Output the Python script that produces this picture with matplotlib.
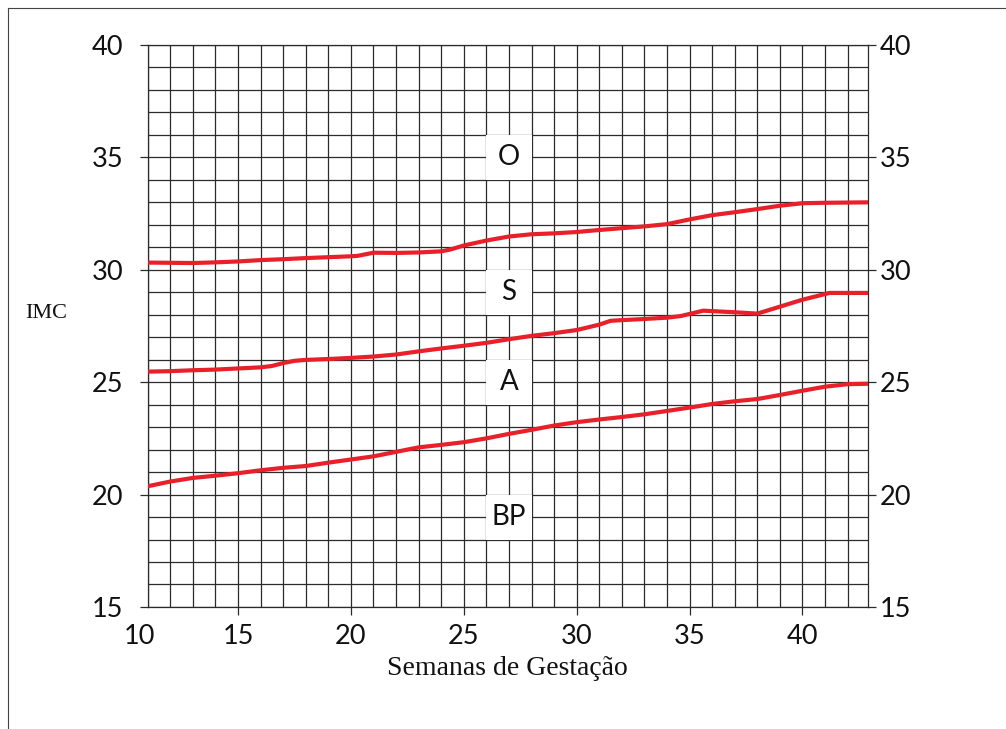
import matplotlib
matplotlib.use("Agg")
import matplotlib.pyplot as plt
from matplotlib.patches import Rectangle
from matplotlib.lines import Line2D
from matplotlib.transforms import ScaledTranslation

# upper curve (O / S)
weeks_o = [11, 12, 13, 14, 15, 16, 17, 18, 19, 20, 20.3, 21, 22, 23, 24, 24.4, 25, 26, 27,
           28, 29, 30, 31, 32, 33, 34, 35, 36, 37, 38, 39, 40, 41, 42.9]
imc_o = [30.32, 30.31, 30.30, 30.33, 30.37, 30.43, 30.47, 30.52, 30.56, 30.60, 30.62, 30.76,
         30.75, 30.77, 30.82, 30.90, 31.08, 31.30, 31.48, 31.58, 31.62, 31.68, 31.77, 31.85,
         31.93, 32.03, 32.24, 32.43, 32.56, 32.70, 32.85, 32.96, 32.98, 33.0]

# middle curve (S / A)
weeks_s = [11, 12, 13, 14, 15, 16, 16.5, 17, 17.5, 18, 19, 20, 21, 22, 23, 24, 25, 26, 27,
           28, 29, 30, 31, 31.5, 32, 33, 34, 34.6, 35.6, 37, 38, 39, 40, 41.2, 42.9]
imc_s = [25.47, 25.49, 25.53, 25.56, 25.61, 25.66, 25.72, 25.85, 25.95, 25.99, 26.03, 26.08,
         26.14, 26.23, 26.37, 26.50, 26.62, 26.75, 26.91, 27.06, 27.18, 27.32, 27.56, 27.73,
         27.76, 27.81, 27.87, 27.94, 28.18, 28.11, 28.05, 28.36, 28.67, 28.97, 28.97]

# lower curve (A / BP)
weeks_a = [11, 12, 13, 14, 15, 16, 17, 18, 19, 20, 21, 22, 23, 24, 25, 26, 27, 28, 29, 30,
           31, 32, 33, 34, 35, 36, 37, 38, 39, 40, 41, 42, 42.9]
imc_a = [20.37, 20.58, 20.74, 20.84, 20.95, 21.08, 21.19, 21.27, 21.42, 21.56, 21.70, 21.90,
         22.10, 22.21, 22.33, 22.50, 22.70, 22.88, 23.07, 23.22, 23.34, 23.45, 23.57, 23.72,
         23.87, 24.03, 24.15, 24.25, 24.43, 24.62, 24.80, 24.91, 24.93]

regions = ["O", "S", "A", "BP"]
region_imc = [35, 29, 25, 19]
region_week = 27

xticks = [11, 15, 20, 25, 30, 35, 40]
xtick_labels = ["10", "15", "20", "25", "30", "35", "40"]
yticks = [15, 20, 25, 30, 35, 40]

red = "#e8202a"
grid_col = "#2b2b2b"
sans = "Lato"
serif = "Liberation Serif"

fig = plt.figure(figsize=(10.06, 7.29), dpi=100)
ax = fig.add_axes([0.1468, 0.1674, 0.7160, 0.7709])
ax.set_xlim(11, 42.9)
ax.set_ylim(15, 40)

# grid every week / every unit of IMC
ax.set_xticks(range(11, 43), minor=True)
ax.set_yticks(range(15, 41), minor=True)
ax.grid(which="both", color=grid_col, lw=0.9)
ax.set_axisbelow(True)
for s in ax.spines.values():
    s.set_color(grid_col)
    s.set_linewidth(0.9)

# white boxes behind the region labels
for lab, yc in zip(regions, region_imc):
    ax.add_patch(Rectangle((region_week - 1, yc - 1), 2, 2, fc="white", ec="none", zorder=1))
    ax.text(region_week, yc, lab, ha="center", va="center", fontsize=20,
            family=sans, color="#111111", zorder=2)

for w, v in [(weeks_o, imc_o), (weeks_s, imc_s), (weeks_a, imc_a)]:
    ax.plot(w, v, color=red, lw=3, zorder=3, solid_capstyle="butt")

ax.set_xticks(xticks)
ax.set_xticklabels(xtick_labels, family=sans)
ax.set_yticks(yticks)
ax.set_yticklabels([str(t) for t in yticks], family=sans)
ax.tick_params(which="minor", length=0)
ax.tick_params(which="major", direction="out", length=5.5, width=0.9, color=grid_col,
               labelsize=19.5, labelcolor="#111111")
ax.tick_params(axis="x", pad=7)
ax.tick_params(axis="y", pad=12)

# first label "10" sits at the left edge, no tick mark there
ax.xaxis.get_major_ticks()[0].tick1line.set_visible(False)
first = ax.get_xticklabels()[0]
first.set_transform(first.get_transform() + ScaledTranslation(-8 / 100, 0, fig.dpi_scale_trans))

ax2 = ax.twinx()
ax2.set_ylim(15, 40)
ax2.set_yticks(yticks)
ax2.set_yticklabels([str(t) for t in yticks], family=sans)
ax2.tick_params(direction="out", length=5.5, width=0.9, color=grid_col, labelsize=19.5,
                labelcolor="#111111", pad=3)
for s in ax2.spines.values():
    s.set_visible(False)

ax.set_xlabel("Semanas de Gestação", family=serif, fontsize=20, labelpad=5, color="#111111")
fig.text(46 / 1006, 1 - 313 / 729, "IMC", family=serif, fontsize=16, ha="center",
         va="center", color="#111111")

# partial outer frame
fig.add_artist(Line2D([8 / 1006, 1], [1 - 8 / 729, 1 - 8 / 729], color="#444444", lw=0.8))
fig.add_artist(Line2D([8 / 1006, 8 / 1006], [0, 1 - 8 / 729], color="#444444", lw=0.8))

fig.savefig("out.png", dpi=100)
